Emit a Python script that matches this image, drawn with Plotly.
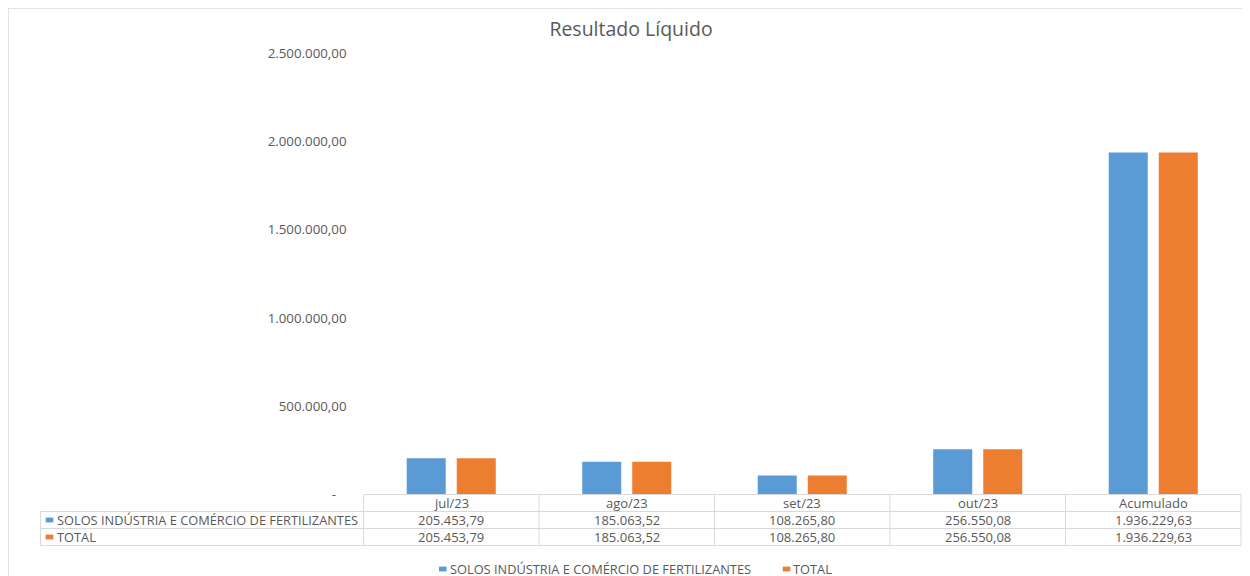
import plotly.graph_objects as go

categories = ["jul/23", "ago/23", "set/23", "out/23", "Acumulado"]
series_names = ["SOLOS INDÚSTRIA E COMÉRCIO DE FERTILIZANTES", "TOTAL"]
solos_values = [205453.79, 185063.52, 108265.80, 256550.08, 1936229.63]
total_values = [205453.79, 185063.52, 108265.80, 256550.08, 1936229.63]
y_tickvals = [0, 500000, 1000000, 1500000, 2000000, 2500000]
colors = ["#5B9BD5", "#ED7D31"]

TXT = "#595959"
LINE = "#D9D9D9"
FONT = "Open Sans, DejaVu Sans, sans-serif"

W, H = 1250, 576
OFF = 8  # page body margin: the figure's top-left lands at page (8, 8)
ANN_PAD = 2.5  # annotation text inset from its anchor


def br(v):
    s = f"{v:,.2f}"
    return s.replace(",", "X").replace(".", ",").replace("X", ".")


def tick_text(v):
    return "-\u00a0\u00a0\u00a0" if v == 0 else br(v)


def fx(px):  # page pixel x -> paper fraction
    return (px - OFF) / W


def fy(py):  # page pixel y -> paper fraction
    return 1 - (py - OFF) / H


fig = go.Figure()
series_values = [solos_values, total_values]
for name, vals, col in zip(series_names, series_values, colors):
    fig.add_trace(go.Bar(x=categories, y=vals, name=name, marker=dict(color=col, line=dict(width=0)),
                         showlegend=False))

# geometry (page pixels)
plot_left, plot_right = 363.5, 1241
plot_top, plot_bottom = 53, 494.5
table_left = 40.5
row_h = 17
cat_w = (plot_right - plot_left) / len(categories)
row_lines = [plot_bottom + row_h * i for i in range(4)]  # header top, row1 top, row2 top, bottom
row_centers = [plot_bottom + row_h * (i + 0.5) for i in range(3)]

shapes = [
    # chart-area border
    dict(type="rect", xref="paper", yref="paper", x0=0, x1=1.01, y0=-0.01, y1=1.0,
         line=dict(color=LINE, width=1.5), fillcolor="rgba(0,0,0,0)", layer="below"),
]


def hline(x0, x1, y):
    shapes.append(dict(type="line", xref="paper", yref="paper", x0=fx(x0), x1=fx(x1), y0=fy(y), y1=fy(y),
                       line=dict(color=LINE, width=1)))


def vline(x, y0, y1):
    shapes.append(dict(type="line", xref="paper", yref="paper", x0=fx(x), x1=fx(x), y0=fy(y0), y1=fy(y1),
                       line=dict(color=LINE, width=1)))


# data table grid: header row spans only the category columns
hline(plot_left, plot_right, row_lines[0])
for y in row_lines[1:]:
    hline(table_left, plot_right, y)
vline(table_left, row_lines[1], row_lines[3])
for i in range(len(categories) + 1):
    vline(plot_left + cat_w * i, row_lines[0], row_lines[3])

annotations = []
# header row: category labels, placed on the category axis
for cat in categories:
    annotations.append(dict(text=cat, x=cat, xref="x", y=fy(row_centers[0]), yref="paper",
                            xanchor="center", yanchor="middle", showarrow=False,
                            font=dict(family=FONT, size=13, color=TXT)))
# value rows
for r, (name, vals, col) in enumerate(zip(series_names, series_values, colors)):
    yc = row_centers[r + 1]
    shapes.append(dict(type="rect", xref="paper", yref="paper", x0=fx(45.7), x1=fx(53.3),
                       y0=fy(yc + 2.4), y1=fy(yc - 2.4), fillcolor=col, line=dict(width=0)))
    annotations.append(dict(text=name, x=fx(57.7 - ANN_PAD), xref="paper", y=fy(yc), yref="paper",
                            xanchor="left", yanchor="middle", showarrow=False,
                            font=dict(family=FONT, size=12.8, color=TXT)))
    for cat, v in zip(categories, vals):
        annotations.append(dict(text=br(v), x=cat, xref="x", y=fy(yc), yref="paper",
                                xanchor="center", yanchor="middle", showarrow=False,
                                font=dict(family=FONT, size=13, color=TXT)))

# legend (Excel style: small key + label)
legend_key_x = [439, 782.7]
legend_y = 569
for name, col, kx in zip(series_names, colors, legend_key_x):
    shapes.append(dict(type="rect", xref="paper", yref="paper", x0=fx(kx), x1=fx(kx + 7.6),
                       y0=fy(legend_y + 2.4), y1=fy(legend_y - 2.4), fillcolor=col, line=dict(width=0)))
    annotations.append(dict(text=name, x=fx(kx + 11 - ANN_PAD), y=fy(legend_y), xref="paper", yref="paper",
                            xanchor="left", yanchor="middle", showarrow=False,
                            font=dict(family=FONT, size=12.8, color=TXT)))

fig.update_layout(
    width=W, height=H,
    margin=dict(l=0, r=0, t=0, b=0, autoexpand=False),
    paper_bgcolor="white", plot_bgcolor="white",
    barmode="group", bargap=0.43, bargroupgap=0.22,
    title=dict(text="Resultado Líquido", x=fx(631), xref="paper", xanchor="center",
               y=fy(29), yref="paper", yanchor="middle",
               font=dict(family=FONT, size=19.5, color=TXT)),
    xaxis=dict(domain=[fx(plot_left), fx(plot_right)], showticklabels=False, showgrid=False,
               showline=False, zeroline=False, ticks="", fixedrange=True, automargin=False),
    yaxis=dict(domain=[fy(plot_bottom), fy(plot_top)], range=[0, 2500000], tickvals=y_tickvals,
               ticktext=[tick_text(v) for v in y_tickvals], showgrid=False, showline=False,
               zeroline=False, ticks="", ticklabelstandoff=16, automargin=False,
               tickfont=dict(family=FONT, size=13.3, color=TXT)),
    showlegend=False,
    annotations=annotations,
    shapes=shapes,
)

fig.write_html("out.html")
